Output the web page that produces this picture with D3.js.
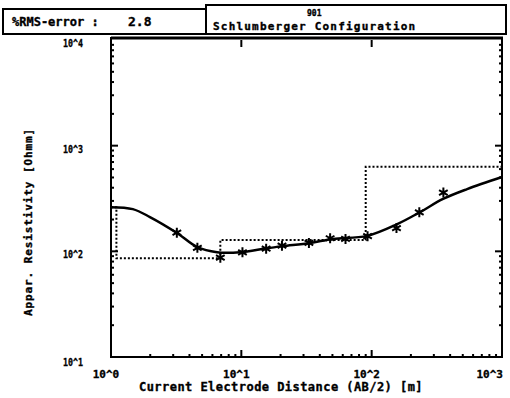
<!DOCTYPE html>
<html><head><meta charset="utf-8">
<script src="https://cdn.jsdelivr.net/npm/d3@7"></script>
<style>
html,body{margin:0;padding:0;background:#fff;}
text{font-family:"DejaVu Sans Mono",monospace;font-weight:bold;fill:#000;stroke:#000;stroke-width:0.35px;}
</style></head>
<body><svg id="c" width="510" height="398"></svg>
<script>
// Observed data (AB/2 [m], apparent resistivity [Ohmm])
const obsAB2 = [3.2, 4.6, 6.9, 10.2, 15.5, 20.5, 33, 48, 63, 93, 155, 232, 355];
const obsRho = [150, 108, 87, 98, 106, 113, 120, 133, 131, 139, 166, 234, 360];
// Calculated (fitted) curve
const fitAB2 = [1.0, 1.47, 1.99, 3.21, 4.57, 6.51, 9.77, 15.7, 20.9, 33.7, 50.6, 92.2, 157, 235, 353, 540, 1000];
const fitRho = [262, 251, 211, 149, 110, 98, 98, 107, 112, 120, 131, 140, 181, 235, 313, 388, 505];
// Layered model: depth tops and resistivities
const layerDepth = [1.0, 1.1, 6.9, 90];
const layerRho = [262, 86, 128, 630];
const xTickExp = [0, 1, 2, 3];
const yTickExp = [1, 2, 3, 4];
const rmsError = "2.8";
const sounding = "901";
const title = "Schlumberger Configuration";

const svg = d3.select("#c");
const L = 111, R = 502, T = 40, B = 357;
const x = d3.scaleLog().domain([1, 1000]).range([L, R]);
const y = d3.scaleLog().domain([10, 10000]).range([B, T]);

// header boxes
svg.append("rect").attr("x", 3).attr("y", 9).attr("width", 203).attr("height", 25)
  .attr("fill", "none").attr("stroke", "#000").attr("stroke-width", 2);
svg.append("rect").attr("x", 206).attr("y", 5).attr("width", 300).attr("height", 29)
  .attr("fill", "none").attr("stroke", "#000").attr("stroke-width", 2);
svg.append("text").attr("x", 12).attr("y", 26).style("font-size", "12px").text("%RMS-error :");
svg.append("text").attr("x", 128).attr("y", 26).style("font-size", "13px").text(rmsError);
svg.append("text").attr("x", 307).attr("y", 16).style("font-size", "8px").text(sounding);
svg.append("text").attr("x", 213).attr("y", 30).style("font-size", "11px").attr("letter-spacing", "1.2").text(title);

// minor ticks
const minors = [];
for (let e = 0; e < 3; e++) for (let k = 2; k <= 9; k++) minors.push(k * Math.pow(10, e));
const yMinors = minors.map(v => v * 10);
const g = svg.append("g").attr("stroke", "#000");
yMinors.forEach(v => g.append("line").attr("x1", L).attr("x2", L + 3).attr("y1", y(v)).attr("y2", y(v)).attr("stroke-width", 2));
yMinors.forEach(v => g.append("line").attr("x1", R).attr("x2", R - 3).attr("y1", y(v)).attr("y2", y(v)).attr("stroke-width", 2));
minors.forEach(v => g.append("line").attr("y1", B).attr("y2", B - 3).attr("x1", x(v)).attr("x2", x(v)).attr("stroke-width", 2));
[100, 1000].forEach(v => {
  g.append("line").attr("x1", L).attr("x2", L + 7).attr("y1", y(v)).attr("y2", y(v)).attr("stroke-width", 2);
  g.append("line").attr("x1", R).attr("x2", R - 7).attr("y1", y(v)).attr("y2", y(v)).attr("stroke-width", 2);
});
[10, 100].forEach(v => {
  g.append("line").attr("y1", B).attr("y2", B - 7).attr("x1", x(v)).attr("x2", x(v)).attr("stroke-width", 2);
  g.append("line").attr("y1", T).attr("y2", T + 7).attr("x1", x(v)).attr("x2", x(v)).attr("stroke-width", 2);
});

// frame
svg.append("line").attr("x1", L).attr("x2", R + 1).attr("y1", T - 2).attr("y2", T - 2).attr("stroke", "#000").attr("stroke-width", 3);
svg.append("line").attr("x1", L).attr("x2", L).attr("y1", T - 3).attr("y2", B + 1).attr("stroke", "#000").attr("stroke-width", 2);
svg.append("line").attr("x1", R).attr("x2", R).attr("y1", T - 3).attr("y2", B + 1).attr("stroke", "#000").attr("stroke-width", 2);
svg.append("line").attr("x1", L).attr("x2", R + 1).attr("y1", B).attr("y2", B).attr("stroke", "#000").attr("stroke-width", 2);

// tick labels
yTickExp.forEach(e => {
  svg.append("text").attr("x", 63).attr("y", y(Math.pow(10, e)) + (e === 1 ? 9 : 7))
    .attr("textLength", 20).attr("lengthAdjust", "spacingAndGlyphs")
    .style("font-size", "11px").text("10^" + e);
});
xTickExp.forEach(e => {
  const cx = x(Math.pow(10, e)) - 5;
  const last = e === xTickExp[xTickExp.length - 1];
  svg.append("text").attr("x", last ? 503 : cx).attr("y", 378)
    .attr("text-anchor", last ? "end" : "middle").style("font-size", "11px").text("10^" + e);
});

// axis titles
svg.append("text").attr("x", 281).attr("y", 391).attr("text-anchor", "middle").style("font-size", "12px")
  .attr("letter-spacing", "0.45").text("Current Electrode Distance (AB/2) [m]");
svg.append("text").attr("transform", "translate(32,222) rotate(-90)").attr("text-anchor", "middle")
  .style("font-size", "11px").attr("letter-spacing", "0.9").text("Appar. Resistivity [Ohmm]");

// model (dotted steps)
const modelPts = [];
for (let i = 0; i < layerDepth.length; i++) {
  const x0 = layerDepth[i], x1 = i + 1 < layerDepth.length ? layerDepth[i + 1] : 1000;
  modelPts.push([x0, layerRho[i]], [x1, layerRho[i]]);
}
svg.append("path").datum(modelPts)
  .attr("d", d3.line().x(d => x(d[0])).y(d => y(d[1])))
  .attr("fill", "none").attr("stroke", "#000").attr("stroke-width", 2).attr("stroke-dasharray", "2,2");

// fitted curve
const fit = fitAB2.map((v, i) => [v, fitRho[i]]);
svg.append("path").datum(fit)
  .attr("d", d3.line().x(d => x(d[0])).y(d => y(d[1])).curve(d3.curveCatmullRom.alpha(0.5)))
  .attr("fill", "none").attr("stroke", "#000").attr("stroke-width", 2.5);

// observed stars
const star = d3.symbol().type(d3.symbolAsterisk).size(70);
obsAB2.forEach((v, i) => {
  svg.append("path").attr("d", star()).attr("transform", `translate(${x(v)},${y(obsRho[i])})`)
    .attr("fill", "none").attr("stroke", "#000").attr("stroke-width", 2);
});
</script></body></html>
